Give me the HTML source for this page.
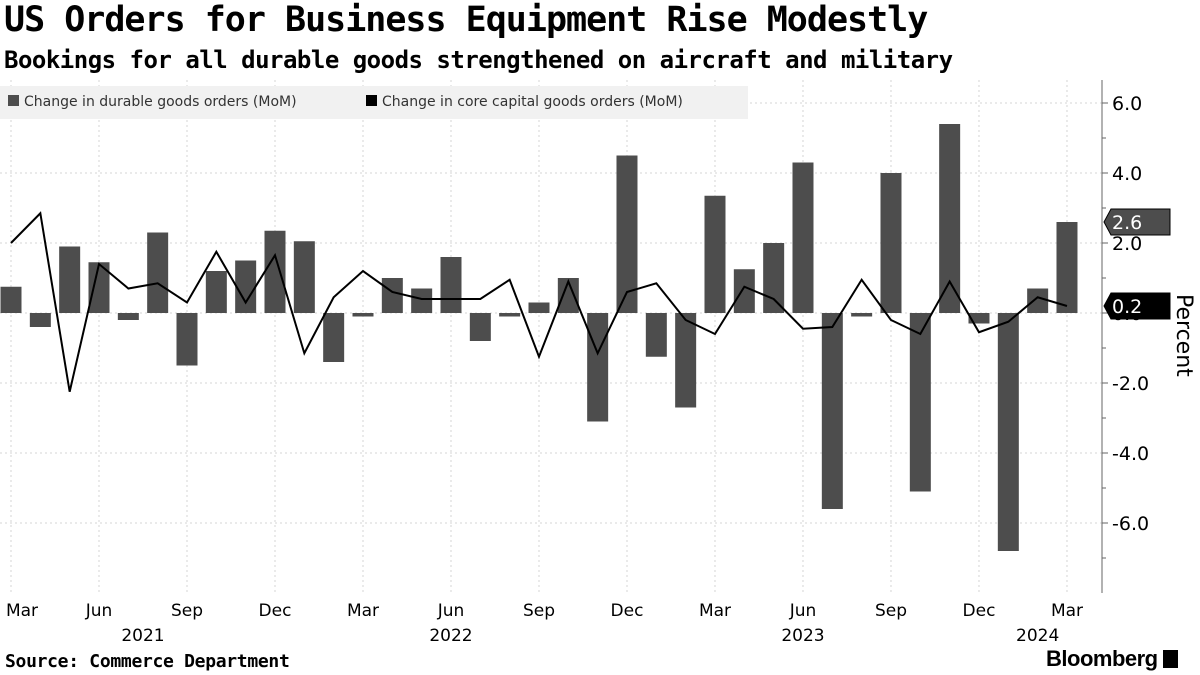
<!DOCTYPE html>
<html><head><meta charset="utf-8"><style>
body{margin:0;background:#fff;width:1200px;height:675px;overflow:hidden;font-family:"DejaVu Sans","Liberation Sans",sans-serif}
#t{position:absolute;left:4px;top:0px;font:bold 35px "DejaVu Sans Mono","Liberation Mono",monospace;letter-spacing:-1px;white-space:nowrap}
#s{position:absolute;left:4px;top:46px;font:bold 24px "DejaVu Sans Mono","Liberation Mono",monospace;letter-spacing:-0.5px;white-space:nowrap}
#src{position:absolute;left:5px;top:651px;font:bold 18px "DejaVu Sans Mono","Liberation Mono",monospace;letter-spacing:-0.3px}
#bb{position:absolute;left:1046px;top:646px;font:bold 22px "Liberation Sans",sans-serif;letter-spacing:-0.5px}
</style></head><body>
<div id="t">US Orders for Business Equipment Rise Modestly</div>
<div id="s">Bookings for all durable goods strengthened on aircraft and military</div>
<svg id="c" width="1200" height="675" style="position:absolute;left:0;top:0"></svg>
<div id="src">Source: Commerce Department</div>
<div id="bb">Bloomberg <span style="display:inline-block;width:15px;height:18px;background:#000;vertical-align:-2px"></span></div>
<script>
const durable=[0.75,-0.4,1.9,1.45,-0.2,2.3,-1.5,1.2,1.5,2.35,2.05,-1.4,-0.1,1.0,0.7,1.6,-0.8,-0.1,0.3,1.0,-3.1,4.5,-1.25,-2.7,3.35,1.25,2.0,4.3,-5.6,-0.1,4.0,-5.1,5.4,-0.3,-6.8,0.7,2.6];
const core=[2.0,2.85,-2.25,1.4,0.7,0.85,0.3,1.75,0.3,1.65,-1.15,0.45,1.2,0.6,0.4,0.4,0.4,0.95,-1.25,0.9,-1.15,0.6,0.85,-0.2,-0.6,0.75,0.4,-0.45,-0.4,0.95,-0.2,-0.6,0.9,-0.55,-0.25,0.45,0.2];
const yTicks=[6,4,2,0,-2,-4,-6];
const monthLabels=["Mar","Jun","Sep","Dec"];
const years=["2021","2022","2023","2024"];
const yearPos=[4.5,15,27,35];
const NS="http://www.w3.org/2000/svg",svg=document.getElementById('c');
const X=i=>11+i*29.333, Y=v=>313-v*35;
function mk(t,a,txt){const e=document.createElementNS(NS,t);for(const k in a)e.setAttribute(k,a[k]);if(txt!=null)e.textContent=txt;svg.appendChild(e);return e;}
// grid
yTicks.forEach(v=>{
  let g=mk('line',{x1:0,x2:1102,y1:Y(v),y2:Y(v),stroke:'#d4d4d4','stroke-dasharray':'2,3'});
  
  
  mk('line',{x1:1102,x2:1108,y1:Y(v),y2:Y(v),stroke:'#666'});
  let t=mk('text',{x:1112,y:Y(v)+7,'font-size':19,fill:'#000'},v.toFixed(1));
  
  
});
[5,3,1,-1,-3,-5,-7].forEach(v=>mk('line',{x1:1102,x2:1106,y1:Y(v),y2:Y(v),stroke:'#666'}));
for(let i=0;i<durable.length;i+=3){
  let g=mk('line',{x1:X(i),x2:X(i),y1:80,y2:593,stroke:'#d4d4d4','stroke-dasharray':'2,3'});
  
  
  let t=mk('text',{x:i===0?22:X(i),y:616,'font-size':17,'text-anchor':'middle'},monthLabels[(i/3)%4]);
  
  
}
years.forEach((y,k)=>{
  let t=mk('text',{x:X(yearPos[k]),y:641,'font-size':17,'text-anchor':'middle'},y);
  
  
});
mk('line',{x1:1102,x2:1102,y1:80,y2:593,stroke:'#666'});
// legend
let lg=mk('rect',{x:0,y:86,width:748,height:33,fill:'#f1f1f1'});


mk('rect',{x:8,y:95,width:11,height:11,fill:'#4d4d4d'});
let l1=mk('text',{x:24,y:106,'font-size':14,fill:'#333'},'Change in durable goods orders (MoM)');


mk('rect',{x:366,y:95,width:11,height:11,fill:'#000'});
let l2=mk('text',{x:382,y:106,'font-size':14,fill:'#333'},'Change in core capital goods orders (MoM)');


// bars
durable.forEach((v,i)=>{
  let b=mk('rect',{x:X(i)-10.5,y:Math.min(Y(v),Y(0)),width:21,height:Math.abs(Y(v)-Y(0)),fill:'#4d4d4d'});
  
  
});
let ln=mk('polyline',{points:core.map((v,i)=>X(i)+','+Y(v)).join(' '),fill:'none',stroke:'#000','stroke-width':2});


// value tags
function tag(v,fill){const y=Y(v);
  let p=mk('polygon',{points:`1104,${y} 1111,${y-13} 1170,${y-13} 1170,${y+13} 1111,${y+13}`,fill:fill,stroke:'#000','stroke-width':1});
  
  
  mk('text',{x:1112,y:y+7,'font-size':19,fill:'#fff'},v.toFixed(1));}
tag(durable[durable.length-1],'#4d4d4d');
tag(core[core.length-1],'#000');
let yt=mk('text',{x:0,y:0,'font-size':22,transform:'translate(1177,294) rotate(90)'},'Percent');


</script>
</body></html>
